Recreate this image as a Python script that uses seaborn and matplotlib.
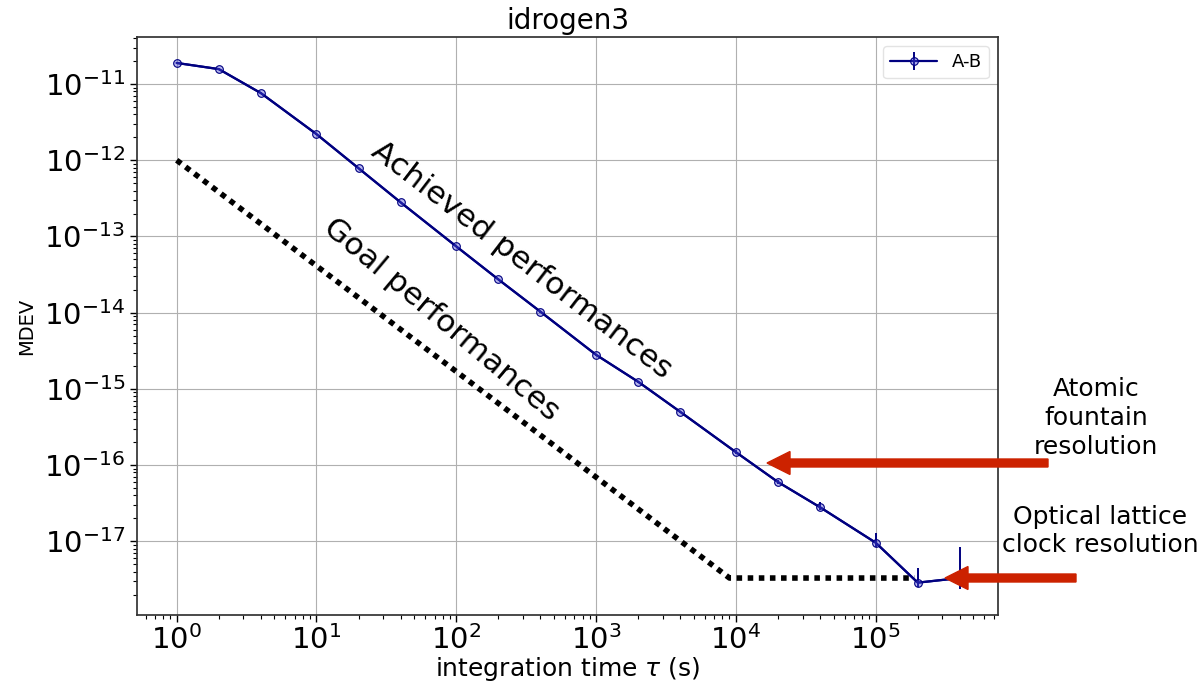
import numpy as np
import pandas as pd
import matplotlib
matplotlib.use("Agg")
import matplotlib.pyplot as plt
from matplotlib.patches import FancyArrow
from matplotlib.transforms import IdentityTransform
import seaborn as sns

# ---- data ----
tau = [1, 2, 4, 10, 20, 40, 100, 200, 400, 1000, 2000, 4000,
       10000, 20000, 40000, 100000, 200000, 400000]
mdev = [1.89e-11, 1.57e-11, 7.6e-12, 2.2e-12, 7.85e-13, 2.8e-13, 7.4e-14,
        2.73e-14, 1.03e-14, 2.8e-15, 1.24e-15, 5.0e-16, 1.48e-16, 6.0e-17,
        2.8e-17, 9.6e-18, 2.87e-18, 3.3e-18]
err_lo = [2e-13, 2e-13, 1e-13, 3e-14, 1.2e-14, 5e-15, 1.5e-15, 6e-16, 2.5e-16,
          8e-17, 4e-17, 2e-17, 7e-18, 3.5e-18, 2.5e-18, 1.3e-18, 0.38e-18, 0.9e-18]
err_hi = [2e-13, 2e-13, 1e-13, 3e-14, 1.2e-14, 5e-15, 1.5e-15, 6e-16, 2.5e-16,
          8e-17, 4e-17, 2e-17, 8e-18, 4.5e-18, 4.5e-18, 3.1e-18, 1.56e-18, 5.1e-18]

goal_tau = [1, 9000, 190000]
goal_mdev = [1e-12, 3.3e-18, 3.3e-18]

x_ticks = [1e0, 1e1, 1e2, 1e3, 1e4, 1e5]
y_ticks = [1e-17, 1e-16, 1e-15, 1e-14, 1e-13, 1e-12, 1e-11]

title = "idrogen3"
series_label = "A-B"

df = pd.DataFrame({"tau": tau, "mdev": mdev})
goal_df = pd.DataFrame({"tau": goal_tau, "mdev": goal_mdev})

# ---- style ----
sns.set_theme(style="ticks", rc={
    "axes.edgecolor": "#333333",
    "grid.color": "#b0b0b0",
    "grid.linewidth": 0.8,
    "xtick.direction": "out",
    "ytick.direction": "out",
    "text.color": "black",
    "axes.labelcolor": "black",
    "xtick.color": "black",
    "ytick.color": "black",
})
plt.rcParams["font.family"] = ["DejaVu Sans"]

W, H = 1204, 683
fig = plt.figure(figsize=(W / 100, H / 100), dpi=100)
ax = fig.add_axes([137 / W, 1 - 615 / H, (998 - 137) / W, (615 - 37) / H])

navy = "#000080"

# goal line
sns.lineplot(data=goal_df, x="tau", y="mdev", ax=ax, color="black",
             linestyle=(0, (1, 1)), linewidth=4, legend=False)

# achieved line
sns.lineplot(data=df, x="tau", y="mdev", ax=ax, color=navy, linewidth=1.6,
             legend=False)
ax.errorbar(tau, mdev, yerr=[err_lo, err_hi], fmt="o-", color=navy,
            markersize=5.5, markerfacecolor=(0.3, 0.3, 0.85, 0.4),
            markeredgecolor=navy, markeredgewidth=0.8,
            linewidth=1.6, elinewidth=1.4, label=series_label, zorder=3)

ax.set_xscale("log")
ax.set_yscale("log")
ax.set_xticks(x_ticks)
ax.set_yticks(y_ticks)
ax.set_xlim(0.52, 7.5e5)
ax.set_ylim(1.08e-18, 4.14e-11)
ax.grid(True, which="major")

ax.set_title(title, fontsize=20, pad=6)
ax.set_xlabel(r"integration time $\tau$ (s)", fontsize=18, labelpad=0)
ax.set_ylabel("MDEV", fontsize=14, labelpad=6)
ax.tick_params(axis="both", which="major", labelsize=21, length=5, width=1)
ax.tick_params(axis="x", which="major", pad=2)
ax.tick_params(axis="both", which="minor", length=3, width=0.8)

leg = ax.legend(loc="upper right", fontsize=13, frameon=True, fancybox=True,
                handlelength=2.6)
leg.get_frame().set_edgecolor("#dddddd")

# annotation texts
fig.text(522 / W, 1 - 260 / H, "Achieved performances",
         rotation=-37.5, fontsize=22.5, ha="center", va="center")
fig.text(441 / W, 1 - 320 / H, "Goal performances",
         rotation=-40, fontsize=22.5, ha="center", va="center")

fig.text(1096 / W, 1 - 418 / H, "Atomic\nfountain\nresolution",
         fontsize=18, ha="center", va="center", linespacing=1.25)
fig.text(1100 / W, 1 - 531 / H, "Optical lattice\nclock resolution",
         fontsize=18, ha="center", va="center", linespacing=1.25)

red = "#cc2200"
for x0, x1, y in [(1048, 767, 463), (1076, 945, 578)]:
    arr = FancyArrow(x0, H - y, x1 - x0, 0, width=8, head_width=23,
                     head_length=23, length_includes_head=True,
                     color=red, transform=IdentityTransform(), zorder=10)
    fig.add_artist(arr)

fig.savefig("out.png", dpi=100)
